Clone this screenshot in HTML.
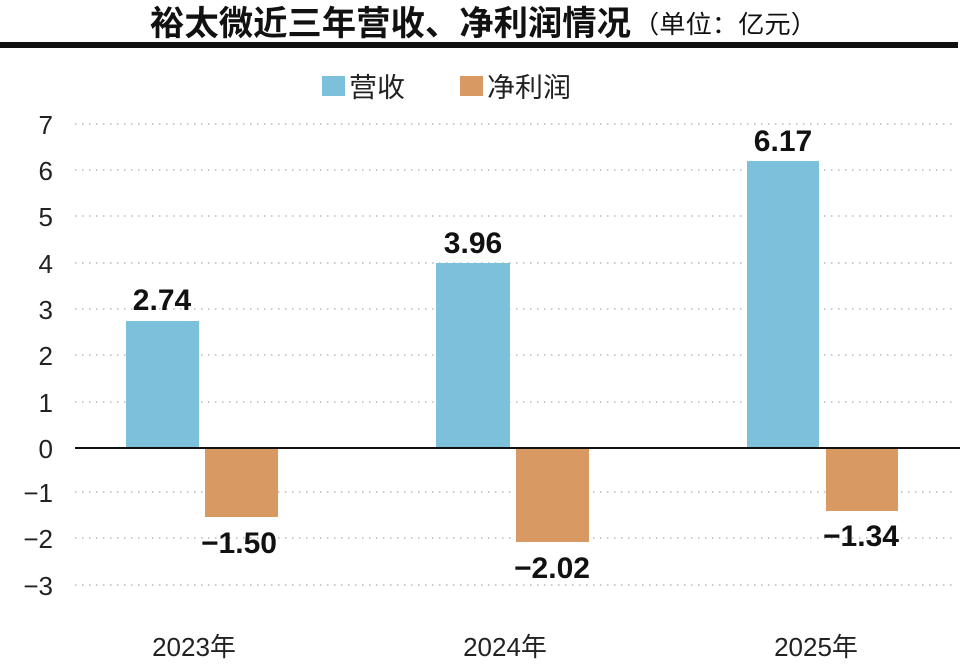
<!DOCTYPE html>
<html><head><meta charset="utf-8"><style>
body{margin:0;background:#fff;}
svg text{font-family:"Liberation Sans","Noto Sans CJK SC",sans-serif;}
</style></head><body>
<svg width="960" height="660" xmlns="http://www.w3.org/2000/svg">
<rect width="960" height="660" fill="#fff"/>
<text x="150" y="35" font-size="34" font-weight="bold" fill="#111" textLength="481" lengthAdjust="spacingAndGlyphs">裕太微近三年营收、净利润情况</text>
<text x="633" y="33" font-size="25" fill="#111" textLength="184" lengthAdjust="spacingAndGlyphs">（单位：亿元）</text>
<rect x="0" y="42" width="958" height="6" fill="#111"/>
<rect x="322" y="76" width="23" height="20" fill="#7dc0dc"/>
<text x="349" y="97" font-size="27" fill="#222" textLength="56" lengthAdjust="spacingAndGlyphs">营收</text>
<rect x="460" y="76" width="23" height="20" fill="#d89a62"/>
<text x="487" y="97" font-size="27" fill="#222" textLength="84" lengthAdjust="spacingAndGlyphs">净利润</text>
<g stroke="#b8b8b8" stroke-width="1.5" stroke-dasharray="1.5 5.5">
<line x1="75" y1="124" x2="955" y2="124"/>
<line x1="75" y1="170" x2="955" y2="170"/>
<line x1="75" y1="216" x2="955" y2="216"/>
<line x1="75" y1="263" x2="955" y2="263"/>
<line x1="75" y1="309" x2="955" y2="309"/>
<line x1="75" y1="355" x2="955" y2="355"/>
<line x1="75" y1="402" x2="955" y2="402"/>
<line x1="75" y1="492" x2="955" y2="492"/>
<line x1="75" y1="538" x2="955" y2="538"/>
<line x1="75" y1="585" x2="955" y2="585"/>
</g>
<g font-size="26" fill="#222" text-anchor="end">
<text x="53" y="134">7</text><text x="53" y="180">6</text><text x="53" y="226">5</text>
<text x="53" y="273">4</text><text x="53" y="319">3</text><text x="53" y="365">2</text>
<text x="53" y="412">1</text><text x="53" y="458">0</text><text x="53" y="502">−1</text>
<text x="53" y="548">−2</text><text x="53" y="595">−3</text>
</g>
<rect x="126" y="321" width="73" height="127" fill="#7dc0dc"/>
<rect x="205" y="448" width="73" height="69" fill="#d89a62"/>
<rect x="436" y="263" width="74" height="185" fill="#7dc0dc"/>
<rect x="516" y="448" width="73" height="94" fill="#d89a62"/>
<rect x="747" y="161" width="72" height="287" fill="#7dc0dc"/>
<rect x="826" y="448" width="72" height="63" fill="#d89a62"/>
<line x1="75" y1="448" x2="960" y2="448" stroke="#111" stroke-width="2"/>
<g font-size="30" font-weight="bold" fill="#111" text-anchor="middle">
<text x="162" y="310">2.74</text>
<text x="239" y="553">−1.50</text>
<text x="473" y="253">3.96</text>
<text x="552" y="578">−2.02</text>
<text x="783" y="151">6.17</text>
<text x="861" y="546">−1.34</text>
</g>
<g font-size="26" fill="#222" text-anchor="middle">
<text x="194" y="656">2023年</text>
<text x="505" y="656">2024年</text>
<text x="816" y="656">2025年</text>
</g>
</svg>
</body></html>
